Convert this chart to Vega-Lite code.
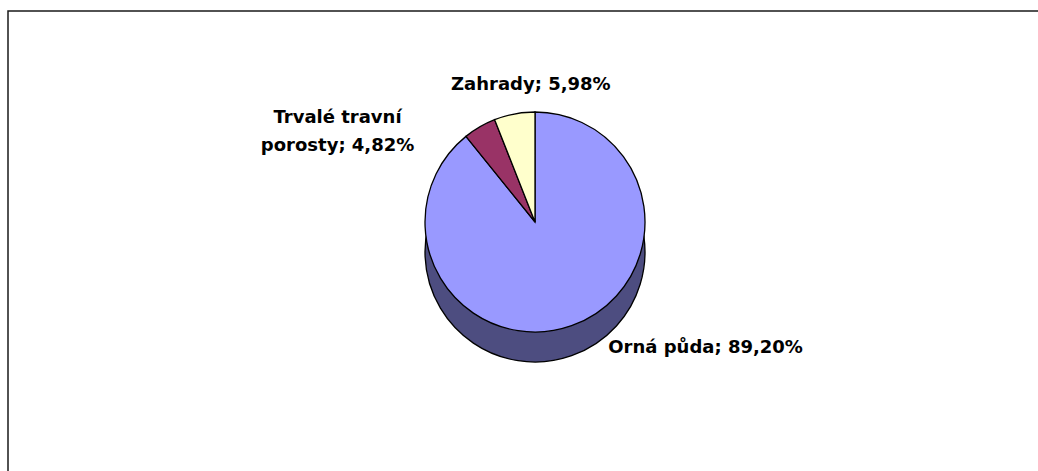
{
  "$schema": "https://vega.github.io/schema/vega-lite/v6.json",
  "width": 1100,
  "height": 462,
  "padding": {"left": 8, "top": 11, "right": 0, "bottom": 0},
  "background": "white",
  "view": {"stroke": "#1a1a1a", "strokeWidth": 1.5, "fill": "white"},
  "data": {
    "values": [
      {"kategorie": "Orná půda", "podil": 89.20, "popisek": "Orná půda; 89,20%"},
      {"kategorie": "Trvalé travní porosty", "podil": 4.82, "popisek": "Trvalé travní\nporosty; 4,82%"},
      {"kategorie": "Zahrady", "podil": 5.98, "popisek": "Zahrady; 5,98%"}
    ]
  },
  "encoding": {
    "theta": {"field": "podil", "type": "quantitative", "stack": true}
  },
  "layer": [
    {
      "mark": {"type": "arc", "outerRadius": 110, "xOffset": -23, "yOffset": 10, "stroke": "#000", "strokeWidth": 1.3},
      "encoding": {
        "color": {
          "field": "kategorie", "type": "nominal",
          "scale": {"domain": ["Orná půda", "Trvalé travní porosty", "Zahrady"], "range": ["#4d4d80", "#4d1a33", "#808066"]},
          "legend": null
        }
      }
    },
    {
      "mark": {"type": "arc", "outerRadius": 110, "xOffset": -23, "yOffset": -20, "stroke": "#000", "strokeWidth": 1.3},
      "encoding": {
        "color": {
          "field": "kategorie", "type": "nominal",
          "scale": {"domain": ["Orná půda", "Trvalé travní porosty", "Zahrady"], "range": ["#9999ff", "#993366", "#ffffcc"]},
          "legend": null
        }
      }
    },
    {
      "mark": {"type": "text", "radius": 140, "dx": -1, "dy": -19, "font": "DejaVu Sans", "fontWeight": "bold", "fontSize": 18, "lineBreak": "\n", "lineHeight": 28, "color": "#000", "align": "center", "baseline": "middle"},
      "encoding": {
        "detail": {"field": "kategorie", "type": "nominal"},
        "text": {"condition": {"test": "datum.kategorie === 'Zahrady'", "field": "popisek"}, "value": ""}
      }
    },
    {
      "mark": {"type": "text", "radius": 140, "dx": -150, "dy": -3, "font": "DejaVu Sans", "fontWeight": "bold", "fontSize": 18, "lineBreak": "\n", "lineHeight": 28, "color": "#000", "align": "center", "baseline": "middle"},
      "encoding": {
        "detail": {"field": "kategorie", "type": "nominal"},
        "text": {"condition": {"test": "datum.kategorie === 'Trvalé travní porosty'", "field": "popisek"}, "value": ""}
      }
    },
    {
      "mark": {"type": "text", "radius": 140, "dx": 101, "dy": -26, "font": "DejaVu Sans", "fontWeight": "bold", "fontSize": 18, "lineBreak": "\n", "lineHeight": 28, "color": "#000", "align": "center", "baseline": "middle"},
      "encoding": {
        "detail": {"field": "kategorie", "type": "nominal"},
        "text": {"condition": {"test": "datum.kategorie === 'Orná půda'", "field": "popisek"}, "value": ""}
      }
    }
  ],
  "resolve": {"scale": {"color": "independent"}}
}
